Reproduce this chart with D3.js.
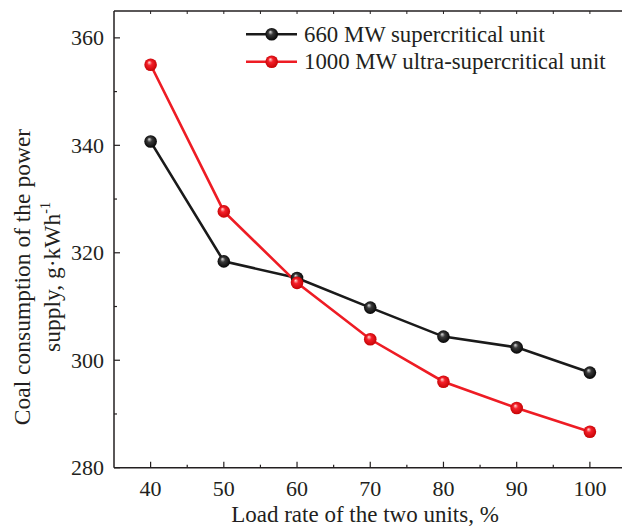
<!DOCTYPE html>
<html lang="en">
<head>
  <meta charset="UTF-8">
  <title>Coal consumption vs load rate</title>
  <script src="https://d3js.org/d3.v7.min.js"></script>
  <style>
    body { margin: 0; background: #fff; }
    text { font-family: "Liberation Serif", "Times New Roman", serif; fill: #231f20; }
  </style>
</head>
<body>
<script>
  // data
  const loadRates = [40, 50, 60, 70, 80, 90, 100];
  const unit660 = [340.7, 318.4, 315.3, 309.8, 304.4, 302.4, 297.7];
  const unit1000 = [355.0, 327.7, 314.4, 303.9, 296.0, 291.1, 286.7];
  const seriesNames = ['660 MW supercritical unit', '1000 MW ultra-supercritical unit'];
  const yTicks = [280, 300, 320, 340, 360];
  const xTicks = [40, 50, 60, 70, 80, 90, 100];

  const W = 622, H = 529;
  const svg = d3.select('body').append('svg')
    .attr('width', W).attr('height', H);

  const x = d3.scaleLinear().domain([35, 105]).range([114, 626.5]);
  const y = d3.scaleLinear().domain([280, 365]).range([467.7, 11]);

  // sphere-looking markers
  const defs = svg.append('defs');
  function ballGradient(id, hi, mid, dark) {
    const g = defs.append('radialGradient').attr('id', id)
      .attr('cx', '50%').attr('cy', '50%').attr('r', '55%')
      .attr('fx', '38%').attr('fy', '30%');
    g.append('stop').attr('offset', '0%').attr('stop-color', hi);
    g.append('stop').attr('offset', '35%').attr('stop-color', mid);
    g.append('stop').attr('offset', '100%').attr('stop-color', dark);
  }
  ballGradient('ballBlack', '#e0e0e0', '#3a3a3a', '#000');
  ballGradient('ballRed', '#ffe0d8', '#f5202a', '#c00000');

  const series = [
    { name: seriesNames[0], values: unit660, color: '#1a1a1a', grad: 'url(#ballBlack)' },
    { name: seriesNames[1], values: unit1000, color: '#ee1c24', grad: 'url(#ballRed)' }
  ];

  // frame
  const g = svg.append('g');
  g.append('line').attr('x1', x(35)).attr('x2', x(105)).attr('y1', y(280)).attr('y2', y(280))
    .attr('stroke', '#231f20').attr('stroke-width', 1.5);
  g.append('line').attr('x1', x(35)).attr('x2', x(105)).attr('y1', y(365)).attr('y2', y(365))
    .attr('stroke', '#231f20').attr('stroke-width', 1.5);
  g.append('line').attr('x1', x(35)).attr('x2', x(35)).attr('y1', y(280)).attr('y2', y(365))
    .attr('stroke', '#231f20').attr('stroke-width', 1.5);

  // x ticks (inward)
  const xMinor = d3.range(45, 100, 10);
  xTicks.forEach(v => {
    g.append('line').attr('x1', x(v)).attr('x2', x(v)).attr('y1', y(280)).attr('y2', y(280) - 6)
      .attr('stroke', '#231f20').attr('stroke-width', 1.2);
    g.append('text').attr('x', x(v)).attr('y', 496).attr('text-anchor', 'middle')
      .attr('font-size', 22).text(v);
  });
  xMinor.forEach(v => {
    g.append('line').attr('x1', x(v)).attr('x2', x(v)).attr('y1', y(280)).attr('y2', y(280) - 3)
      .attr('stroke', '#231f20').attr('stroke-width', 1.2);
  });
  xTicks.concat(xMinor).forEach(v => {
    g.append('line').attr('x1', x(v)).attr('x2', x(v)).attr('y1', y(365)).attr('y2', y(365) + 3)
      .attr('stroke', '#231f20').attr('stroke-width', 1);
  });

  // y ticks (inward)
  yTicks.forEach(v => {
    g.append('line').attr('x1', x(35)).attr('x2', x(35) + 6).attr('y1', y(v)).attr('y2', y(v))
      .attr('stroke', '#231f20').attr('stroke-width', 1.2);
    g.append('text').attr('x', 104).attr('y', y(v) + 7.5).attr('text-anchor', 'end')
      .attr('font-size', 22).text(v);
  });
  [290, 310, 330, 350].forEach(v => {
    g.append('line').attr('x1', x(35)).attr('x2', x(35) + 3).attr('y1', y(v)).attr('y2', y(v))
      .attr('stroke', '#231f20').attr('stroke-width', 1.2);
  });

  // axis titles
  svg.append('text').attr('x', 365).attr('y', 522).attr('text-anchor', 'middle')
    .attr('font-size', 23).text('Load rate of the two units, %');
  const yl = svg.append('text').attr('transform', 'translate(30,277) rotate(-90)')
    .attr('text-anchor', 'middle').attr('font-size', 23.5);
  yl.append('tspan').attr('x', 0).attr('y', 0).text('Coal consumption of the power');
  yl.append('tspan').attr('x', 0).attr('y', 30).text('supply, g·kWh');
  yl.append('tspan').attr('font-size', 14).attr('dy', -10).text('-1');

  // lines and markers
  const line = d3.line().x((d, i) => x(loadRates[i])).y(d => y(d));
  series.forEach(s => {
    svg.append('path').datum(s.values).attr('d', line)
      .attr('fill', 'none').attr('stroke', s.color).attr('stroke-width', 2.6);
  });
  series.forEach(s => {
    svg.selectAll(null).data(s.values).enter().append('circle')
      .attr('cx', (d, i) => x(loadRates[i])).attr('cy', d => y(d))
      .attr('r', 6.3).attr('fill', s.grad);
  });

  // legend
  const lg = svg.append('g');
  series.forEach((s, i) => {
    const ly = 34.3 + i * 27.4;
    lg.append('line').attr('x1', 246).attr('x2', 297).attr('y1', ly).attr('y2', ly)
      .attr('stroke', s.color).attr('stroke-width', 2.6);
    lg.append('circle').attr('cx', 271.7).attr('cy', ly).attr('r', 6.3).attr('fill', s.grad);
    lg.append('text').attr('x', 304).attr('y', ly + 7.5).attr('font-size', 22.8).text(s.name);
  });
</script>
</body>
</html>
